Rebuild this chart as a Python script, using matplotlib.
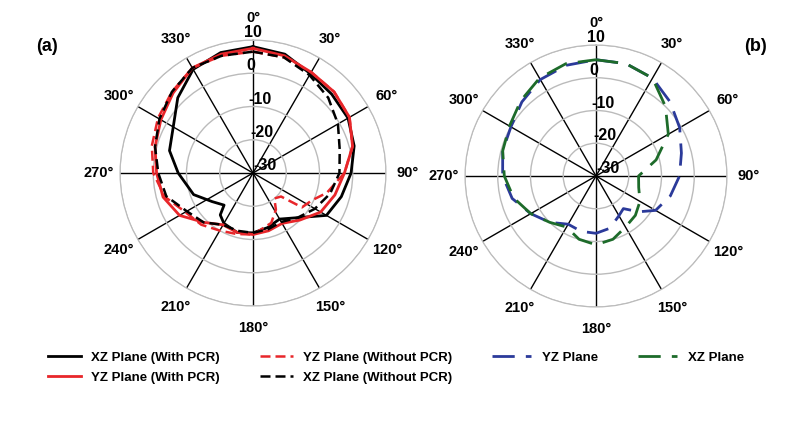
import numpy as np
import matplotlib.pyplot as plt

plt.rcParams['font.family'] = ['Liberation Sans', 'DejaVu Sans']

# angles in degrees (clockwise from top), gain in dB
ang15 = list(range(0, 361, 15))

xz_pcr_ang = [0, 15, 30, 45, 60, 75, 90, 105, 120, 135, 150, 165, 180, 195, 210, 218, 222,
              235, 250, 270, 285, 300, 315, 330, 345, 360]
xz_pcr = [8, 7, 4.5, 3.5, 3, 1.5, -0.5, -2.5, -4.5, -11, -14, -13, -12, -11.5, -12.5, -14, -17,
          -15, -11, -7.5, -4, -2.3, 2, 6, 7.5, 8]

yz_pcr = [7.5, 6.5, 5, 4.5, 3.5, 1, -2.5, -4.5, -6.5, -10, -12.5, -12, -11.5, -11.5, -12, -9,
          -4.5, -2, -1, 0.5, 2, 4, 6.5, 7, 7.5]

yz_nopcr_ang = [0, 15, 30, 45, 60, 75, 90, 105, 115, 125, 130, 140, 148, 160, 180, 195, 210,
                225, 240, 255, 270, 285, 300, 315, 330, 345, 360]
yz_nopcr = [6.5, 6, 5, 4.5, 3.5, 1, -2.5, -7, -10.5, -12, -19, -20, -17, -14, -11.5, -11, -10,
            -8, -6.5, -2.5, 0, 1.5, 3, 4.5, 6.5, 6.5, 6.5]

xz_nopcr = [6.5, 6, 4, 2, -0.5, -3, -4, -6, -8.5, -11, -13, -12.5, -12, -12, -12, -9, -7, -3,
            -1.5, 0.5, 2.5, 4.5, 6.5, 6.5, 6.5]

yz_b_ang = [0, 15, 30, 45, 60, 75, 90, 105, 120, 130, 140, 150, 165, 180, 195, 210, 225, 240,
            255, 270, 285, 300, 315, 330, 345, 360]
yz_b = [5.5, 5.5, 4.5, 2, -0.5, -3, -4.5, -6.5, -9, -13, -17, -16, -13.5, -12.5, -12.5, -13,
        -10, -7, -3.5, -1.5, -0.5, 0, 2, 4, 5, 5.5]

xz_b = [5.5, 5.5, 4.5, 0, -4.5, -11, -17, -16.5, -14.5, -13, -12, -10, -9, -10, -12, -10, -7,
        -4, -2, -0.5, 0.5, 2.5, 4.5, 5.5, 5.5]

fig = plt.figure(figsize=(8, 4.22), dpi=100)


def make_ax(cx, cy, r):
    ax = fig.add_axes([(cx - r) / 800, (422 - cy - r) / 422, 2 * r / 800, 2 * r / 422],
                      projection='polar')
    ax.set_theta_zero_location('N')
    ax.set_theta_direction(-1)
    ax.set_ylim(-30, 10)
    ax.set_yticks([-30, -20, -10, 0, 10])
    ax.set_yticklabels(['-30', '-20', '-10', '0', '10'], fontsize=11.5, fontweight='bold')
    ax.set_rlabel_position(-4)
    ax.set_thetagrids(np.arange(0, 360, 30), [f'{a}°' for a in range(0, 360, 30)],
                      fontsize=10.5, fontweight='bold')
    ax.tick_params(axis='x', pad=5)
    ax.xaxis.grid(True, color='black', lw=1)
    ax.yaxis.grid(True, color='#bbbbbb', lw=1)
    ax.spines['polar'].set_color('#bbbbbb')
    return ax


ax1 = make_ax(253, 173, 133)
l1, = ax1.plot(np.radians(xz_pcr_ang), xz_pcr, color='black', lw=2)
l2, = ax1.plot(np.radians(ang15), yz_pcr, color='#e8262a', lw=2)
l3, = ax1.plot(np.radians(yz_nopcr_ang), yz_nopcr, color='#e8262a', lw=1.8, ls=(0, (4, 2)))
l4, = ax1.plot(np.radians(ang15), xz_nopcr, color='black', lw=1.8, ls=(0, (4, 2)))
fig.text(0.045, 0.88, '(a)', fontsize=13, fontweight='bold')

ax2 = make_ax(596, 176, 131)
m1, = ax2.plot(np.radians(yz_b_ang), yz_b, color='#2b3a9a', lw=2, ls=(0, (8, 4)))
m2, = ax2.plot(np.radians(ang15), xz_b, color='#1d6b2a', lw=2, ls=(0, (8, 4)))
fig.text(0.93, 0.88, '(b)', fontsize=13, fontweight='bold')

fig.legend([l1, l2, l3, l4],
           ['XZ Plane (With PCR)', 'YZ Plane (With PCR)',
            'YZ Plane (Without PCR)', 'XZ Plane (Without PCR)'],
           loc='upper left', bbox_to_anchor=(0.045, 0.195), ncol=2, frameon=False,
           prop={'weight': 'bold', 'size': 9.5}, columnspacing=3, handlelength=2.5,
           labelspacing=0.6)
fig.legend([m1, m2], ['YZ Plane', 'XZ Plane'],
           loc='upper left', bbox_to_anchor=(0.6, 0.195), ncol=2, frameon=False,
           prop={'weight': 'bold', 'size': 9.5}, columnspacing=3, handlelength=3)

fig.savefig('out.png', dpi=100)
